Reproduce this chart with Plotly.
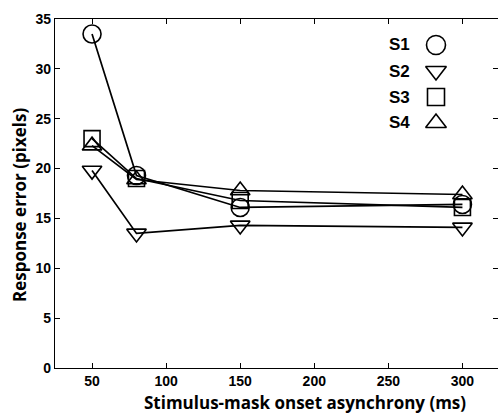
import plotly.graph_objects as go

soa = [50, 80, 150, 300]
series_names = ["S1", "S2", "S3", "S4"]
s1 = [33.5, 19.3, 16.1, 16.4]
s2 = [19.8, 13.5, 14.3, 14.1]
s3 = [23.0, 19.0, 16.8, 16.1]
s4 = [22.3, 18.9, 17.8, 17.4]
x_ticks = [50, 100, 150, 200, 250, 300]
y_ticks = [0, 5, 10, 15, 20, 25, 30, 35]
x_title = "Stimulus-mask onset asynchrony (ms)"
y_title = "Response error (pixels)"

values = [s1, s2, s3, s4]
symbols = ["circle-open", "triangle-down-open", "square-open", "triangle-up-open"]
sizes = [18, 17, 16, 17]

W, H = 498, 414
ml, mr, mt, mb = 55, 0, 19, 46
pw, ph = W - ml - mr, H - mt - mb

def px_to_paper(px, py):
    return (px - ml) / pw, (H - mb - py) / ph

fig = go.Figure()
for name, v, sym, sz in zip(series_names, values, symbols, sizes):
    fig.add_trace(go.Scatter(
        x=soa, y=v, mode="lines+markers", name=name,
        line=dict(color="black", width=1.7),
        marker=dict(symbol=sym, size=sz, color="black", line=dict(width=1.6, color="black")),
        showlegend=False, cliponaxis=False,
    ))

# custom legend (text left of symbol), placed in an invisible overlay axis
leg_rows_px = [45, 71, 97, 123]
leg_marker_x_px = 436
leg_text_x_px = 412
for name, sym, sz, ry in zip(series_names, symbols, sizes, leg_rows_px):
    mx, my = px_to_paper(leg_marker_x_px, ry)
    tx, _ = px_to_paper(leg_text_x_px, ry)
    fig.add_trace(go.Scatter(
        x=[mx], y=[my], xaxis="x2", yaxis="y2", mode="markers",
        marker=dict(symbol=sym, size=sz + 1, color="black", line=dict(width=1.6, color="black")),
        showlegend=False, hoverinfo="skip", cliponaxis=False,
    ))
    fig.add_annotation(
        x=tx, y=my, xref="paper", yref="paper",
        text="<b>%s</b>" % name, showarrow=False, xanchor="right", yanchor="middle",
        font=dict(family="Liberation Sans, Arial", size=17, color="black"),
    )

# axis titles (the original axes extend past the cropped right edge)
tx, ty = px_to_paper(305, 402)
fig.add_annotation(x=tx, y=ty, xref="paper", yref="paper", text=x_title, showarrow=False,
                   xanchor="center", yanchor="middle", borderpad=0,
                   font=dict(family="Open Sans", size=17, color="black", weight="bold"))
tx, ty = px_to_paper(19, 205)
fig.add_annotation(x=tx, y=ty, xref="paper", yref="paper", text=y_title, showarrow=False,
                   xanchor="center", yanchor="middle", textangle=-90,
                   font=dict(family="Open Sans", size=17, color="black", weight="bold"))

tickfont = dict(family="Liberation Sans, Arial", size=14, color="black", weight="bold")
common = dict(ticks="inside", ticklen=5, tickwidth=1.2, tickcolor="black",
              showgrid=False, zeroline=False)

fig.update_layout(
    width=W, height=H,
    margin=dict(l=ml, r=mr, t=mt, b=mb, pad=0),
    plot_bgcolor="white", paper_bgcolor="white",
    xaxis=dict(
        range=[25, 324], tickvals=x_ticks, ticktext=[str(t) for t in x_ticks],
        showline=True, linecolor="black", linewidth=1.2, mirror="ticks",
        tickfont=tickfont, **common,
    ),
    yaxis=dict(
        range=[0, 35], tickvals=y_ticks, ticktext=[str(t) for t in y_ticks],
        showline=True, linecolor="black", linewidth=1.2, mirror=False,
        tickfont=tickfont, **common,
    ),
    yaxis3=dict(
        overlaying="y", side="right", range=[0, 35], tickvals=y_ticks,
        showticklabels=False, showline=False, fixedrange=True, **common,
    ),
    xaxis2=dict(overlaying="x", range=[0, 1], visible=False, fixedrange=True),
    yaxis2=dict(overlaying="y", range=[0, 1], visible=False, fixedrange=True),
    showlegend=False,
)
# an invisible trace so the right-side tick axis is drawn
fig.add_trace(go.Scatter(x=[None], y=[None], yaxis="y3", showlegend=False, hoverinfo="skip"))

fig.write_html("out.html", config={"displayModeBar": False},
               post_script="document.body.style.margin='0px';")
